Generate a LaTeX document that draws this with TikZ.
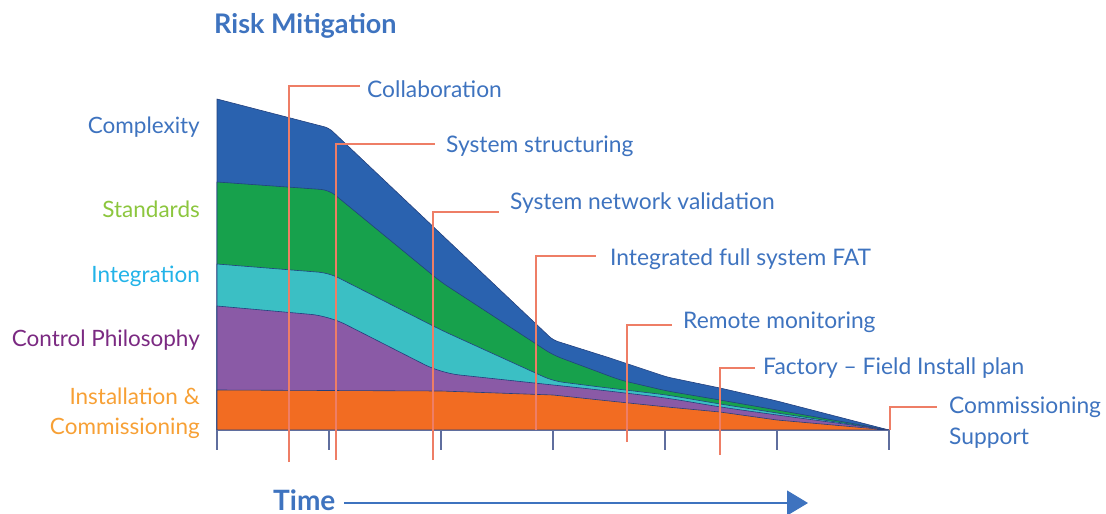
\documentclass[tikz,border=0pt]{standalone}
\usepackage{fontspec}
\setmainfont{Lato}
\usetikzlibrary{arrows.meta}
\definecolor{cBlue}{HTML}{2A62AF}
\definecolor{cGreen}{HTML}{17A14C}
\definecolor{cCyan}{HTML}{3BBFC4}
\definecolor{cPurple}{HTML}{8A5AA6}
\definecolor{cOrange}{HTML}{F26C22}
\definecolor{cEdge}{HTML}{23407E}
\definecolor{tBlue}{HTML}{3E73BF}
\definecolor{tGreen}{HTML}{8CC63E}
\definecolor{tCyan}{HTML}{22B3E8}
\definecolor{tPurple}{HTML}{7B2A82}
\definecolor{tOrange}{HTML}{F7A035}
\definecolor{leader}{HTML}{EE7E66}
\definecolor{tick}{HTML}{5F6E9E}
\tikzset{
  layer/.style={draw=cEdge, line width=0.6pt, line join=round},
  lbl/.style={font=\fontsize{22.8}{27}\selectfont, text=tBlue, inner sep=0pt, anchor=west},
  leftlbl/.style={font=\fontsize{22.5}{27}\selectfont, inner sep=0pt, anchor=east, align=right},
  lead/.style={draw=leader, line width=1.4pt},
  tickline/.style={draw=tick, line width=1.2pt},
}
\begin{document}
\begin{tikzpicture}[x=1pt,y=-1pt]
\useasboundingbox (0,0) rectangle (1106,514);
% layers
\fill[cBlue, layer] (217,430) -- (217,99) [rounded corners=5pt] -- (329,128) -- (441,234) -- (553,340) -- (610,358) -- (667,377) -- (720,388) -- (777,401) [sharp corners] -- (889,430) -- cycle;
\fill[cGreen, layer] (217,430) -- (217,182) [rounded corners=8pt] -- (329,190) -- (441,282) -- (553,355) -- (620,380) -- (667,391) -- (720,400) -- (777,410) [sharp corners] -- (889,430) -- cycle;
\fill[cCyan, layer] (217,430) -- (217,264) [rounded corners=10pt] -- (329,273) -- (441,330) -- (553,381) -- (600,387) -- (667,395) -- (720,404) -- (777,413) [sharp corners] -- (889,430) -- cycle;
\fill[cPurple, layer] (217,430) -- (217,306) [rounded corners=18pt] -- (329,316) -- (441,373) -- (553,385) -- (600,390) -- (667,398) -- (720,407) -- (777,415) [sharp corners] -- (889,430) -- cycle;
\fill[cOrange, layer] (217,430) -- (217,390) -- (441,391) -- (553,395) -- (600,400) -- (667,407) -- (720,412) -- (777,420) -- (889,430) -- cycle;
% baseline and ticks
\draw[tickline, line width=0.8pt] (217,430) -- (889,430);
\foreach \x in {217,329,441,553,665,777,889} \draw[tickline] (\x,430) -- (\x,450);
% title
\node[font=\fontsize{27}{32}\selectfont\bfseries, text=tBlue, inner sep=0pt, anchor=west] (title) at (214,26) {Risk Mitigation};
% left labels
\node[leftlbl, text=tBlue] (cx) at (200,127) {Complexity};
\node[leftlbl, text=tGreen] (st) at (200,209) {Standards};
\node[leftlbl, text=tCyan] (ig) at (200,276) {Integration};
\node[leftlbl, text=tPurple] (cp) at (200,340) {Control Philosophy};
\node[leftlbl, text=tOrange] (ic1) at (200,396) {Installation \&};
\node[leftlbl, text=tOrange] (ic2) at (200,428) {Commissioning};
% right labels
\node[lbl] (l1) at (367,89) {Collaboration};
\node[lbl] (l2) at (446,146) {System structuring};
\node[lbl] (l3) at (510,203) {System network validation};
\node[lbl] (l4) at (610,259) {Integrated full system FAT};
\node[lbl] (l5) at (683,322) {Remote monitoring};
\node[lbl] (l6) at (763,368) {Factory -- Field Install plan};
\node[lbl] (l7) at (949,407) {Commissioning};
\node[lbl] (l7b) at (949,438) {Support};
% leader coordinates
\coordinate (b1) at (289,462); \coordinate (e1) at (360,86);
\coordinate (b2) at (336,460); \coordinate (e2) at (435,144);
\coordinate (b3) at (433,460); \coordinate (e3) at (499,212);
\coordinate (b4) at (536,430); \coordinate (e4) at (596,256);
\coordinate (b5) at (627,442); \coordinate (e5) at (672,325);
\coordinate (b6) at (720,455); \coordinate (e6) at (755,368);
\coordinate (b7) at (890,430); \coordinate (e7) at (937,407);
\foreach \i in {1,...,7} \draw[lead] (b\i) |- (e\i);
% time axis
\node[font=\fontsize{28}{32}\selectfont\bfseries, text=tBlue, inner sep=0pt, anchor=base west] (time) at (273,510) {Time};
\coordinate (tstart) at (344,503);
\coordinate (tend) at (808,503);
\draw[draw=tBlue, line width=1.2pt, -{Triangle[length=21pt,width=25pt]}] (tstart) -- (tend);
\end{tikzpicture}
\end{document}
